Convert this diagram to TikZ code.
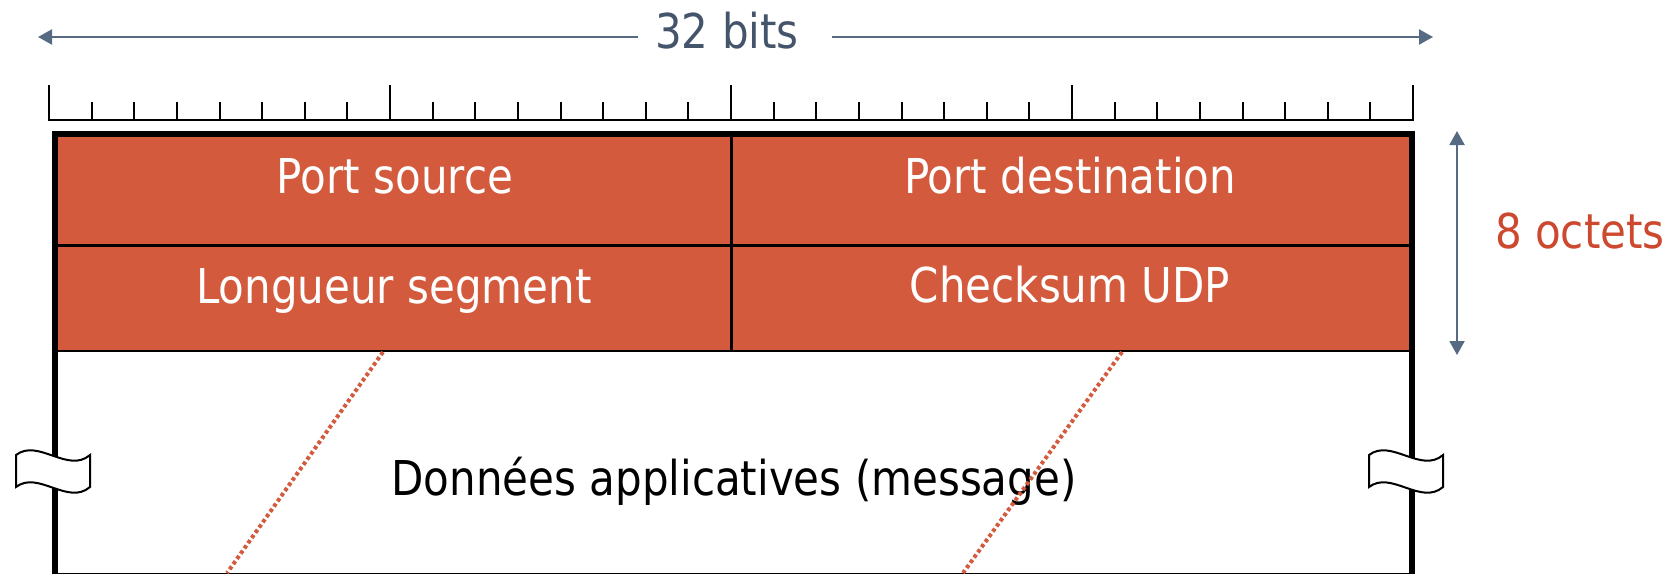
\documentclass[tikz,border=0pt]{standalone}
\usepackage{fontspec}
\setmainfont{DejaVu Sans}[FakeStretch=0.875]
\usetikzlibrary{arrows.meta}
\definecolor{hdrred}{RGB}{211,90,61}
\definecolor{octred}{RGB}{204,72,46}
\definecolor{slate}{RGB}{68,84,106}
\definecolor{arrowgray}{RGB}{86,106,132}

\begin{document}
\begin{tikzpicture}[
    x=0.5pt, y=-0.5pt,
    font=\fontsize{24pt}{28pt}\selectfont,
    txt/.style = {anchor=base, inner sep=0pt},
    field/.style = {txt, text=white},
    dimline/.style = {draw=arrowgray, line width=1pt},
    dimtip/.style = {arrows={-Triangle[length=7pt, width=7.5pt]}},
    dimboth/.style = {arrows={Triangle[length=7pt, width=7.5pt]-Triangle[length=7pt, width=7.5pt]}},
    ruler/.style = {line width=1pt, line cap=rect},
    outline/.style = {line width=2.6pt},
    divider/.style = {line width=1.5pt},
    guide/.style = {draw=hdrred, line width=2pt, dash pattern=on 1.8pt off 1.4pt},
    cut/.style = {draw, fill=white, line width=1pt}
    ]
    \useasboundingbox (0,0) rectangle (1679,573);

    % Width of the datagram
    \coordinate (bitsL) at (38,37);
    \coordinate (bitsR) at (1433,37);
    \coordinate (gapL)  at (638,37);
    \coordinate (gapR)  at (832,37);
    \node[txt, text=slate] (bits) at (727,48) {32 bits};
    \draw[dimline, dimtip] (gapL) -- (bitsL);
    \draw[dimline, dimtip] (gapR) -- (bitsR);

    % Bit ruler
    \draw[ruler] (49,120) -- (1413,120);
    \foreach \i in {0,...,32} {
        \pgfmathsetmacro\ticktop{mod(\i,8)==0 ? 86 : 103}
        \draw[ruler] (49+42.625*\i,120) -- (49+42.625*\i,\ticktop);
    }

    % Header fields
    \fill[hdrred] (55,134) rectangle (1412,351);
    \draw[divider] (55,245) -- (1412,245);
    \draw[line width=1pt] (55,351) -- (1412,351);
    \draw[divider] (731,134) -- (731,351);

    \node[field] (src)  at (395,193)  {Port source};
    \node[field] (dst)  at (1070,193) {Port destination};
    \node[field] (len)  at (394,303)  {Longueur segment};
    \node[field] (csum) at (1070,302) {Checksum UDP};

    % Data
    \node[txt] (data) at (734,495) {Données applicatives (message)};

    % Outline
    \draw[outline] (55,576) -- (55,134) -- (1412,134) -- (1412,576);
    \draw[outline] (55,576) -- (1412,576);

    % Dotted guides
    \coordinate (lenA)  at (383,352);
    \coordinate (lenB)  at (227,573);
    \coordinate (csumA) at (1122,352);
    \coordinate (csumB) at (963,573);
    \draw[guide] (lenA) -- (lenB);
    \draw[guide] (csumA) -- (csumB);

    % Cut marks
    \foreach \dx in {0,1353} {
        \draw[cut, shift={(\dx,0)}] (16,455) .. controls (38,438) and (68,474) .. (90,455)
            -- (90,487) .. controls (68,506) and (38,470) .. (16,487) -- cycle;
    }

    % Header size
    \coordinate (octT) at (1457,131);
    \coordinate (octB) at (1457,355);
    \draw[dimline, dimboth] (octT) -- (octB);
    \node[txt, text=octred] (oct) at (1580,248) {8 octets};
\end{tikzpicture}
\end{document}
